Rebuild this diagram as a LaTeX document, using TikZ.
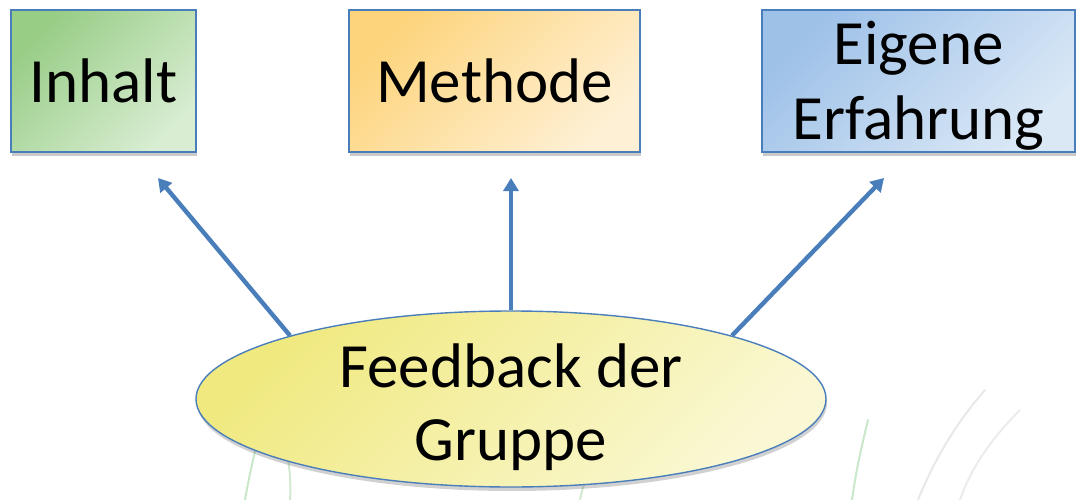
\documentclass[tikz,border=0pt]{standalone}
\usepackage{fontspec}
\setmainfont{Carlito}
\usetikzlibrary{shapes.geometric,shadows,arrows.meta}
\definecolor{rand}{HTML}{4A7EBB}
\definecolor{pfeil}{HTML}{4A7EBB}
\definecolor{gruenA}{RGB}{152,205,134}
\definecolor{gruenB}{RGB}{216,237,210}
\definecolor{orangeA}{RGB}{253,212,124}
\definecolor{orangeB}{RGB}{254,240,212}
\definecolor{blauA}{RGB}{158,193,232}
\definecolor{blauB}{RGB}{218,232,246}
\definecolor{gelbA}{RGB}{240,233,128}
\definecolor{gelbB}{RGB}{250,248,212}
\newcommand{\zweizeilig}[3]{\raisebox{#1}[0pt][0pt]{\begin{tabular}{@{}c@{}}#2\\#3\end{tabular}}}
\begin{document}
\begin{tikzpicture}[x=1pt,y=-1pt,
    kasten/.style={draw=rand,line width=1.4pt,
      align=center,inner sep=0pt,font=\fontsize{63}{75}\selectfont,
      drop shadow={shadow xshift=1pt,shadow yshift=-4pt,opacity=.35,fill=black!60}},
    verlauf/.style 2 args={top color=#1,bottom color=#2,shading angle=45},
    pfeil/.style={draw=pfeil,line width=4.4pt,-{Triangle[width=15pt,length=13pt]}}
  ]
    \useasboundingbox (0,0) rectangle (1076,500);
    % Gras im Hintergrund
    \begin{scope}[line width=2pt,line cap=round,opacity=.3]
      \draw[green!40!gray] (245,500) .. controls (250,470) and (258,440) .. (262,420);
      \draw[green!50!black!60] (290,500) .. controls (292,470) and (286,440) .. (276,420);
      \draw[green!50!black!60] (580,500) .. controls (584,480) and (590,470) .. (596,462);
      \draw[green!40!gray] (852,500) .. controls (856,470) and (862,445) .. (868,420);
      \draw[gray!60] (918,500) .. controls (930,470) and (950,430) .. (985,390);
      \draw[gray!50] (960,500) .. controls (970,470) and (990,440) .. (1020,410);
    \end{scope}

    \node (inhalt) [kasten,minimum width=185,minimum height=142,verlauf={gruenA}{gruenB}]
      at (103.5,81) {Inhalt};
    \node (methode) [kasten,minimum width=291,minimum height=142,verlauf={orangeA}{orangeB}]
      at (494.5,81) {Methode};
    \node (erfahrung) [kasten,minimum width=313,minimum height=142,verlauf={blauA}{blauB}]
      at (918.5,81) {\zweizeilig{-12pt}{Eigene}{Erfahrung}};

    \node (feedback) [ellipse,draw=rand,line width=1.4pt,verlauf={gelbA}{gelbB},
      minimum width=630,minimum height=176,inner sep=0pt,
      font=\fontsize{63}{73}\selectfont,
      drop shadow={shadow xshift=1pt,shadow yshift=-4pt,opacity=.3,fill=black!60}]
      at (511,399) {\zweizeilig{-17pt}{Feedback der}{Gruppe}};

    \coordinate (z1) at (158,178);
    \coordinate (z2) at (511,178);
    \coordinate (z3) at (884,178);
    \draw[pfeil] (feedback.164) -- (z1);
    \draw[pfeil] (feedback.north) -- (z2);
    \draw[pfeil] (feedback.16) -- (z3);
\end{tikzpicture}
\end{document}
